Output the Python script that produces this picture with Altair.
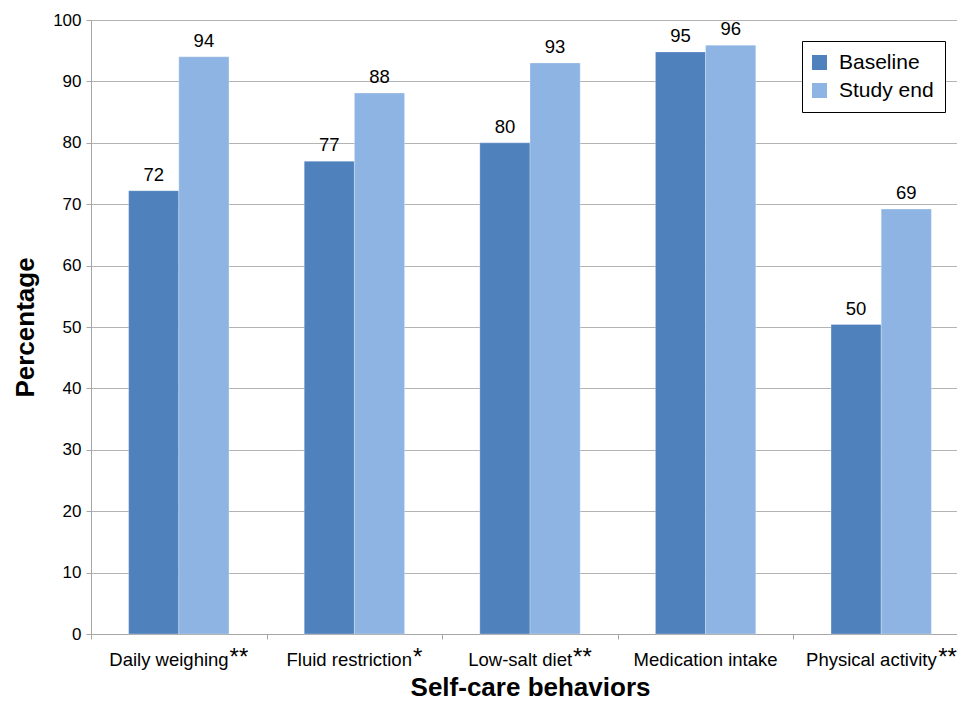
import altair as alt
import pandas as pd

# ---- data ----
categories = ["Daily weighing", "Fluid restriction", "Low-salt diet", "Medication intake", "Physical activity"]
significance = ["**", "*", "**", "", "**"]
series = ["Baseline", "Study end"]
baseline = [72.2, 77.0, 80.0, 94.8, 50.4]
study_end = [94.0, 88.1, 93.0, 95.9, 69.2]
y_ticks = [0, 10, 20, 30, 40, 50, 60, 70, 80, 90, 100]
colors = ["#4F81BD", "#8DB4E2"]

FONT = "Liberation Sans"
LABEL_SIZE = 18.5
AST_SIZE = 24

# Arial / Liberation Sans advance widths (per 1000 em) used to centre label + asterisks together
ARIAL = {" ": 278, "-": 333, "*": 389, "D": 722, "F": 611, "L": 556, "M": 833, "P": 667,
         "a": 556, "c": 500, "d": 556, "e": 556, "g": 556, "h": 556, "i": 222, "k": 500,
         "l": 222, "n": 556, "o": 556, "r": 333, "s": 500, "t": 278, "u": 556, "w": 722, "y": 500}


def text_width(s, size):
    return sum(ARIAL.get(ch, 556) for ch in s) * size / 1000.0


bars = pd.DataFrame(
    [{"category": c, "series": series[0], "value": v} for c, v in zip(categories, baseline)]
    + [{"category": c, "series": series[1], "value": v} for c, v in zip(categories, study_end)]
)

lab_rows = []
for c, s in zip(categories, significance):
    wl = text_width(c, LABEL_SIZE)
    wa = text_width(s, AST_SIZE) + (1 if s else 0)
    lab_rows.append({"category": c, "sig": s,
                     "ldx": -wa / 2.0,
                     "adx": wl / 2.0 - wa / 2.0 + 1})
labels = pd.DataFrame(lab_rows)

W, H = 878, 614

x_enc = alt.X("category:N", sort=categories, title="Self-care behaviors",
              scale=alt.Scale(paddingInner=0, paddingOuter=0),
              axis=alt.Axis(labels=False, tickBand="extent", tickSize=5, tickColor="#a6a6a6",
                            domainColor="#a6a6a6", grid=False,
                            titleFont=FONT, titleFontSize=26, titleFontWeight="bold",
                            titleColor="#000000", titlePadding=35))

y_enc = alt.Y("value:Q", title="Percentage",
              scale=alt.Scale(domain=[0, 100], nice=False),
              axis=alt.Axis(values=y_ticks, tickSize=5, tickColor="#a6a6a6", domainColor="#a6a6a6",
                            gridColor="#b3b3b3", gridWidth=1.2, labelFont=FONT, labelFontSize=17,
                            labelColor="#000000", labelPadding=5,
                            titleFont=FONT, titleFontSize=26, titleFontWeight="bold",
                            titleColor="#000000", titlePadding=14))

base = alt.Chart(bars)

bar_layer = base.mark_bar(stroke="#ffffff", strokeOpacity=0.35, strokeWidth=0.8).encode(
    x=x_enc,
    y=y_enc,
    xOffset=alt.XOffset("series:N", sort=series,
                        scale=alt.Scale(paddingInner=0, paddingOuter=0.75)),
    color=alt.Color("series:N", sort=series,
                    scale=alt.Scale(domain=series, range=colors),
                    legend=alt.Legend(title=None, orient="none", legendX=711, legendY=21,
                                      labelFont=FONT, labelFontSize=21, labelColor="#000000",
                                      symbolType="square", symbolSize=225, symbolStrokeWidth=0,
                                      symbolOffset=-4,
                                      labelOffset=9, rowPadding=6, padding=11,
                                      strokeColor="#000000", fillColor="#ffffff")),
)

value_layer = base.mark_text(font=FONT, fontSize=18.5, color="#000000",
                             baseline="alphabetic", dy=-10).encode(
    x=alt.X("category:N", sort=categories),
    y="value:Q",
    xOffset=alt.XOffset("series:N", sort=series),
    text=alt.Text("value:Q", format=".0f"),
)

cat_layer = alt.Chart(labels).mark_text(font=FONT, fontSize=LABEL_SIZE, color="#000000",
                                        baseline="alphabetic", align="center",
                                        dx=alt.ExprRef("datum.ldx")).encode(
    x=alt.X("category:N", sort=categories),
    y=alt.value(H + 32),
    text="category:N",
)

ast_layer = alt.Chart(labels).mark_text(font=FONT, fontSize=AST_SIZE, color="#000000",
                                        baseline="alphabetic", align="left",
                                        dx=alt.ExprRef("datum.adx")).encode(
    x=alt.X("category:N", sort=categories),
    y=alt.value(H + 31),
    text="sig:N",
)

chart = alt.layer(bar_layer, value_layer, cat_layer, ast_layer).properties(
    width=W, height=H,
    autosize=alt.AutoSizeParams(type="none"),
    padding={"left": 83, "top": 12, "right": -12, "bottom": 69},
).configure_view(stroke=None).configure_scale(bandPaddingInner=0)

chart.save("out.html", embed_options={"renderer": "svg", "actions": False})
